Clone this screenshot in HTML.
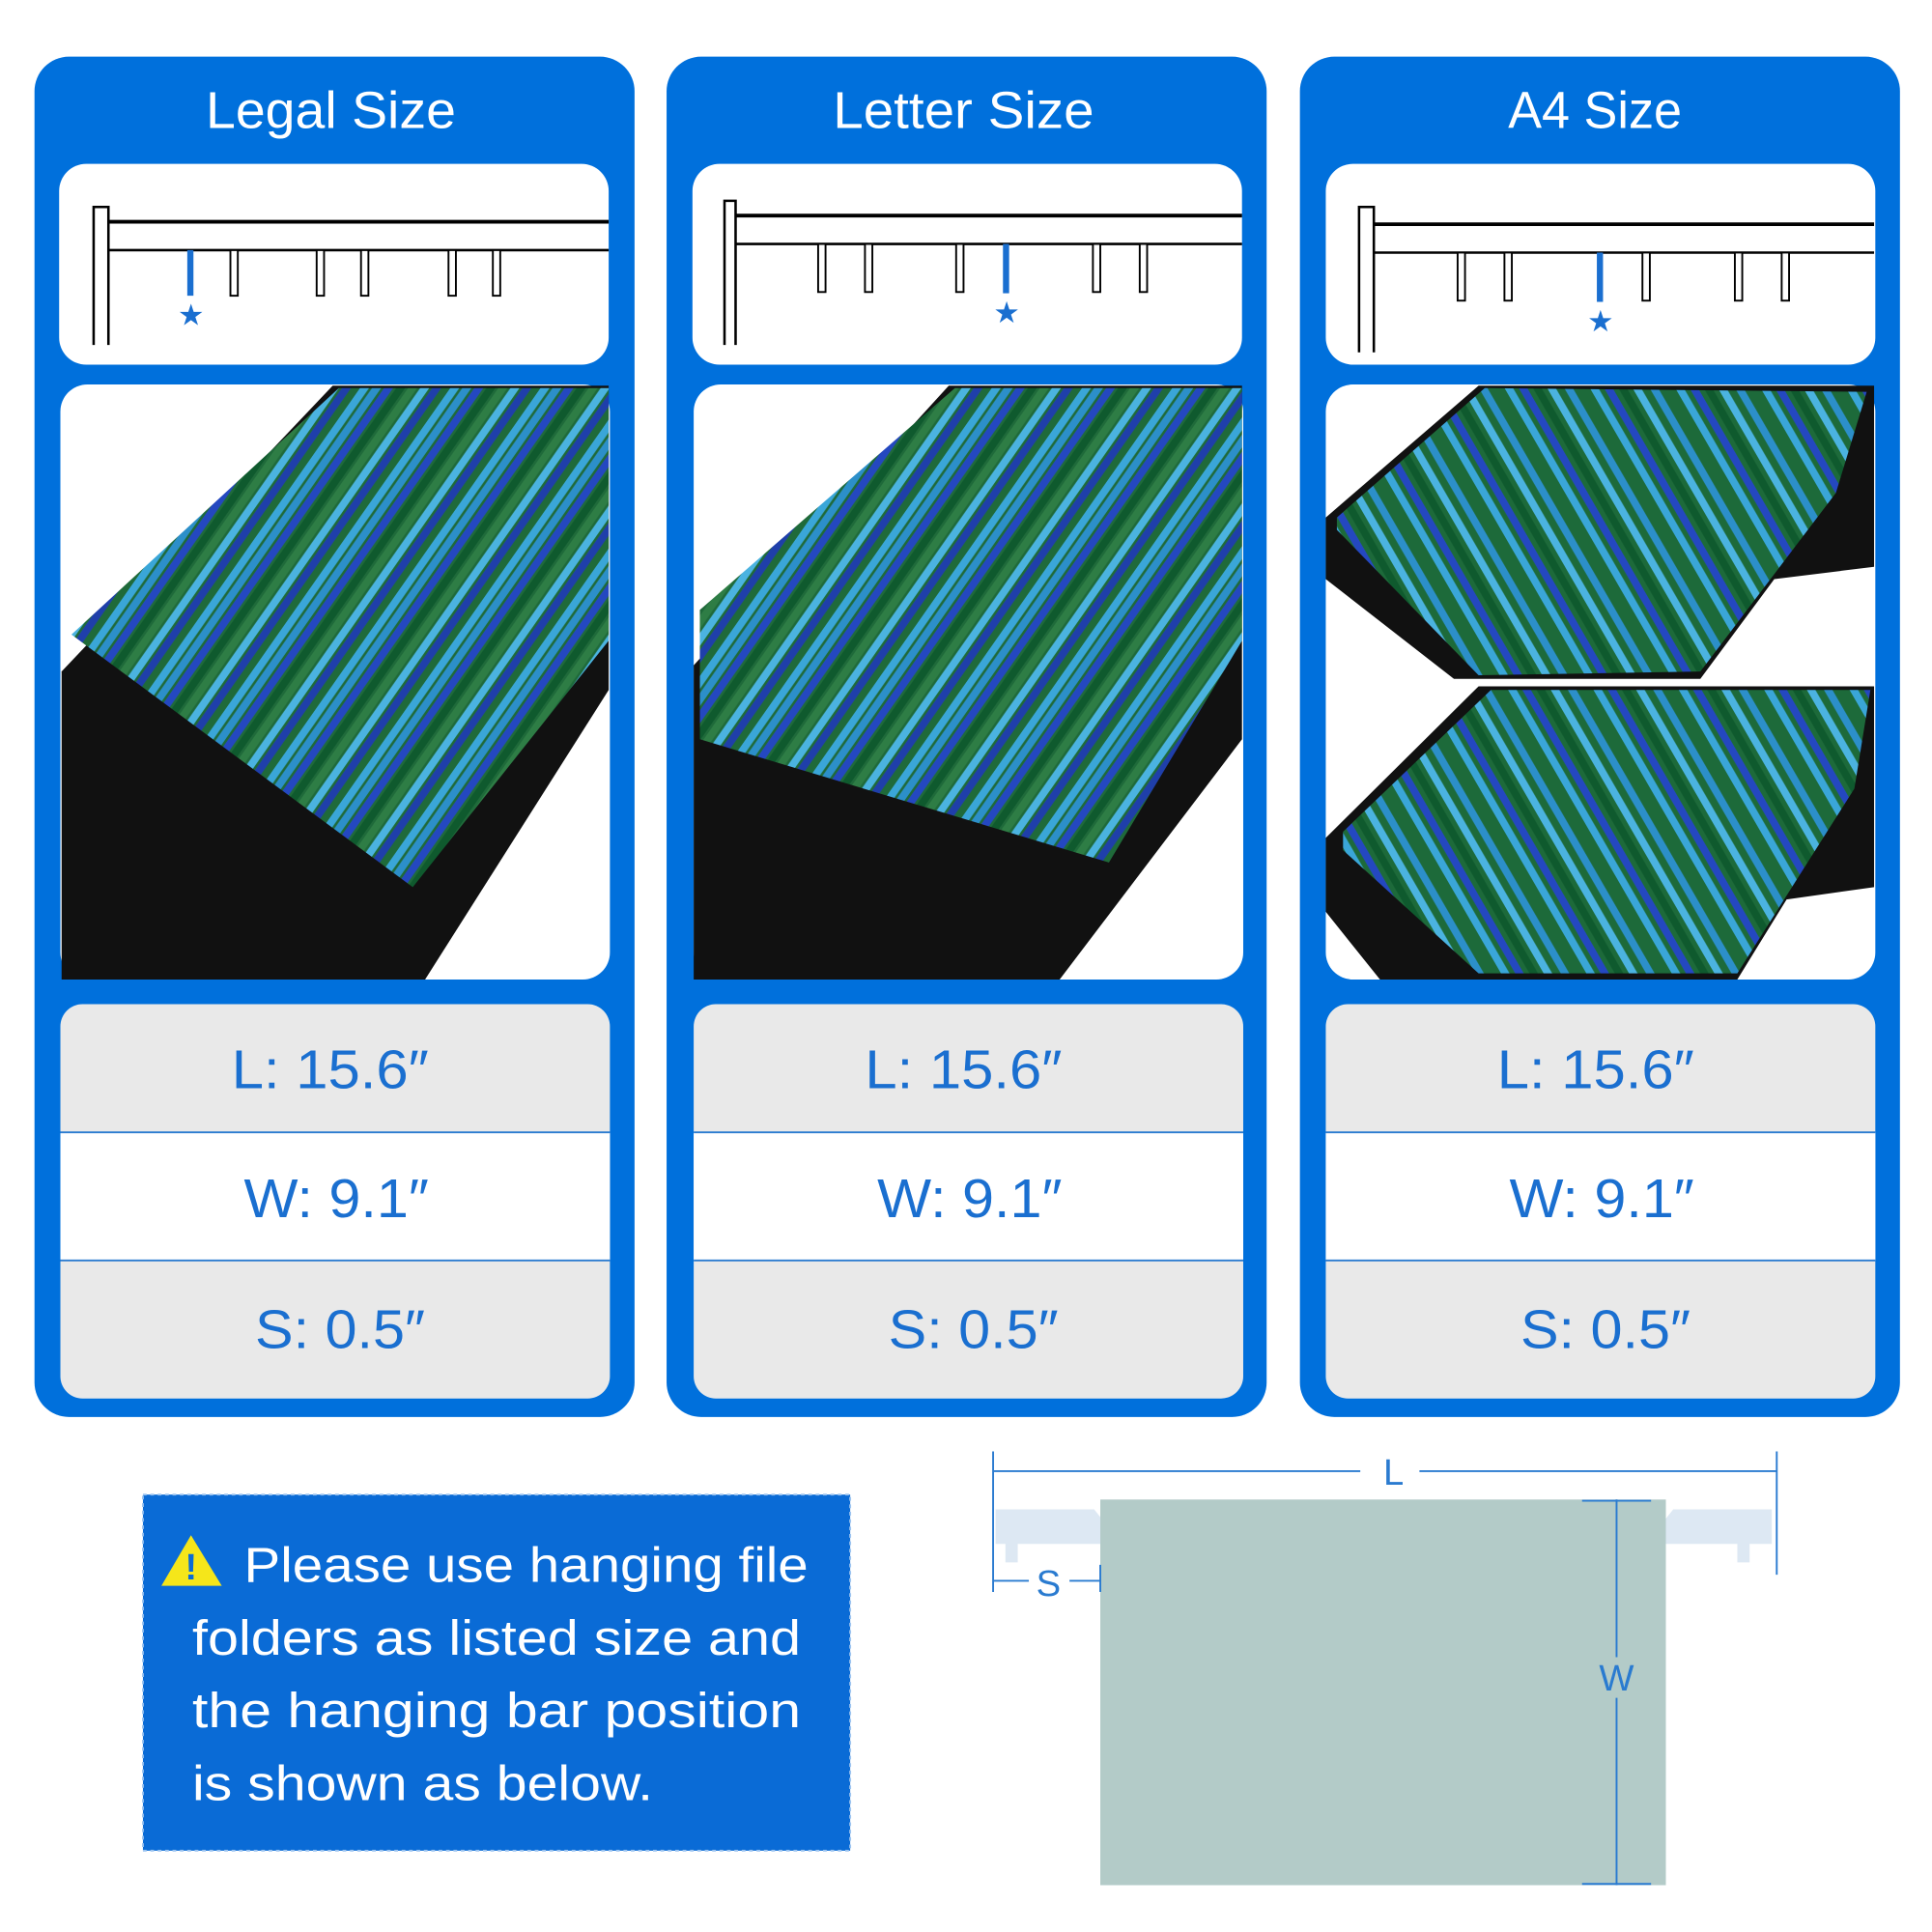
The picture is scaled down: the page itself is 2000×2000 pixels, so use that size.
<!DOCTYPE html>
<html><head><meta charset="utf-8"><style>html,body{margin:0;padding:0;background:#fff}svg{display:block}</style></head>
<body>
<svg width="2000" height="2000" viewBox="0 0 1568 1568" xmlns="http://www.w3.org/2000/svg" font-family="Liberation Sans, DejaVu Sans, sans-serif">
<defs>
<pattern id="st" width="60" height="60" patternUnits="userSpaceOnUse" patternTransform="rotate(35)">
<rect width="60" height="60" fill="#1f6a3a"/>
<rect x="0" width="6" height="60" fill="#3aa6d8"/><rect x="8" width="6" height="60" fill="#2c8fc9"/>
<rect x="16" width="6" height="60" fill="#2448c0"/><rect x="24" width="6" height="60" fill="#0f5a2e"/>
<rect x="32" width="6" height="60" fill="#2e7d45"/><rect x="40" width="6" height="60" fill="#4bb3e0"/>
<rect x="48" width="6" height="60" fill="#1f3faa"/>
</pattern>
<pattern id="st2" width="60" height="60" patternUnits="userSpaceOnUse" patternTransform="rotate(-30)">
<rect width="60" height="60" fill="#1d6a3a"/>
<rect x="0" width="6" height="60" fill="#3aa6d8"/><rect x="10" width="6" height="60" fill="#2448c0"/>
<rect x="20" width="6" height="60" fill="#0f5a2e"/><rect x="30" width="6" height="60" fill="#4bb3e0"/>
<rect x="42" width="6" height="60" fill="#2c8fc9"/>
</pattern>
<g id="table">
<rect x="0" y="0" width="446" height="320" rx="18" fill="#e9e9e9"/>
<rect x="0" y="104" width="446" height="104" fill="#fff"/>
<line x1="0" y1="104" x2="446" y2="104" stroke="#2a7bd0" stroke-width="1.5"/>
<line x1="0" y1="208" x2="446" y2="208" stroke="#2a7bd0" stroke-width="1.5"/>
<g fill="#1a6fd0" font-size="44">
<text x="139" y="68" textLength="160" lengthAdjust="spacingAndGlyphs">L: 15.6″</text><text x="149" y="173" textLength="150" lengthAdjust="spacingAndGlyphs">W: 9.1″</text><text x="158" y="279" textLength="138" lengthAdjust="spacingAndGlyphs">S: 0.5″</text></g>
</g>
</defs>
<rect width="1568" height="1568" fill="#fff"/>
<g fill="#0070dc">
<rect x="28" y="46" width="487" height="1104" rx="28"/>
<rect x="541" y="46" width="487" height="1104" rx="28"/>
<rect x="1055" y="46" width="487" height="1104" rx="28"/>
</g>
<g fill="#fff" font-size="42">
<text x="167" y="104" textLength="203" lengthAdjust="spacingAndGlyphs">Legal Size</text><text x="676" y="104" textLength="212" lengthAdjust="spacingAndGlyphs">Letter Size</text><text x="1224" y="104" textLength="141" lengthAdjust="spacingAndGlyphs">A4 Size</text>
</g>
<g fill="#fff">
<rect x="48" y="133" width="446" height="163" rx="22"/><rect x="562" y="133" width="446" height="163" rx="22"/><rect x="1076" y="133" width="446" height="163" rx="22"/>
<rect x="49" y="312" width="446" height="483" rx="22"/><rect x="563" y="312" width="446" height="483" rx="22"/><rect x="1076" y="312" width="446" height="483" rx="22"/>
</g>
<g fill="none" stroke="#000" stroke-width="2">
<path d="M76 280V168H88V280"/><line x1="88" y1="180" x2="494" y2="180" stroke-width="3"/><line x1="88" y1="203" x2="494" y2="203"/>
<path d="M588 280V163H597V280"/><line x1="597" y1="175" x2="1008" y2="175" stroke-width="3"/><line x1="597" y1="198" x2="1008" y2="198"/>
<path d="M1103 286V168H1115V286"/><line x1="1115" y1="182" x2="1521" y2="182" stroke-width="3"/><line x1="1115" y1="205" x2="1521" y2="205"/>
</g>
<g fill="#fff" stroke="#000" stroke-width="1.5">
<rect x="187" y="203" width="6" height="37"/><rect x="257" y="203" width="6" height="37"/><rect x="293" y="203" width="6" height="37"/><rect x="364" y="203" width="6" height="37"/><rect x="400" y="203" width="6" height="37"/>
<rect x="664" y="198" width="6" height="39"/><rect x="702" y="198" width="6" height="39"/><rect x="776" y="198" width="6" height="39"/><rect x="887" y="198" width="6" height="39"/><rect x="925" y="198" width="6" height="39"/>
<rect x="1183" y="205" width="6" height="39"/><rect x="1221" y="205" width="6" height="39"/><rect x="1333" y="205" width="6" height="39"/><rect x="1408" y="205" width="6" height="39"/><rect x="1446" y="205" width="6" height="39"/>
</g>
<g fill="#1a6fd0" font-size="24" text-anchor="middle">
<rect x="152" y="203" width="5" height="37"/><text x="155" y="264">★</text>
<rect x="814" y="198" width="5" height="40"/><text x="817" y="262">★</text>
<rect x="1296" y="205" width="5" height="40"/><text x="1299" y="269">★</text>
</g>
<polygon points="50,545 270,313 494,313 494,560 345,795 50,795" fill="#111"/>
<polygon points="58,515 275,315 494,315 494,520 335,720" fill="url(#st)"/>
<polygon points="563,540 770,313 1008,313 1008,600 860,795 563,795" fill="#111"/>
<polygon points="568,495 775,315 1008,315 1008,520 900,700 568,600" fill="url(#st)"/>
<polygon points="1076,420 1200,313 1521,313 1521,460 1440,470 1380,551 1180,551 1076,470" fill="#111"/>
<polygon points="1085,420 1205,315 1515,318 1490,400 1380,545 1200,548 1085,430" fill="url(#st2)"/>
<polygon points="1076,680 1200,557 1521,557 1521,720 1450,730 1410,795 1120,795 1076,740" fill="#111"/>
<polygon points="1090,675 1210,560 1518,560 1505,640 1410,790 1200,790 1090,690" fill="url(#st2)"/>
<use href="#table" x="49" y="815"/><use href="#table" x="563" y="815"/><use href="#table" x="1076" y="815"/>
<rect x="116" y="1213" width="574" height="289" fill="#0a6bd6" stroke="#9cc4f0" stroke-width="1.5" stroke-dasharray="3 3"/>
<polygon points="155,1246 131,1287 180,1287" fill="#f5e61a"/>
<text x="155" y="1282" font-size="30" font-weight="bold" text-anchor="middle" fill="#0a6bd6">!</text>
<g fill="#fff" font-size="40">
<text x="198" y="1284" textLength="458" lengthAdjust="spacingAndGlyphs">Please use hanging file</text>
<text x="156" y="1343" textLength="494" lengthAdjust="spacingAndGlyphs">folders as listed size and</text>
<text x="156" y="1402" textLength="494" lengthAdjust="spacingAndGlyphs">the hanging bar position</text>
<text x="156" y="1461" textLength="374" lengthAdjust="spacingAndGlyphs">is shown as below.</text>
</g>
<path d="M808 1225h80l8 10v18h-70v15h-10v-15h-8z" fill="#dde8f3"/>
<path d="M1438 1225h-80l-8 10v18h60v15h10v-15h18z" fill="#dde8f3"/>
<rect x="893" y="1217" width="459" height="313" fill="#b3cbc8"/>
<g stroke="#2a7bd0" stroke-width="1.5" fill="none">
<line x1="806" y1="1178" x2="806" y2="1292"/><line x1="1442" y1="1178" x2="1442" y2="1278"/>
<line x1="806" y1="1194" x2="1104" y2="1194"/><line x1="1152" y1="1194" x2="1442" y2="1194"/>
<line x1="893" y1="1270" x2="893" y2="1292"/>
<line x1="806" y1="1283" x2="835" y2="1283"/><line x1="868" y1="1283" x2="893" y2="1283"/>
<line x1="1312" y1="1217" x2="1312" y2="1345"/><line x1="1312" y1="1378" x2="1312" y2="1530"/>
<line x1="1284" y1="1218" x2="1340" y2="1218"/><line x1="1284" y1="1529" x2="1340" y2="1529"/>
</g>
<g fill="#2a7bd0" font-size="30" text-anchor="middle">
<text x="1131" y="1205">L</text><text x="851" y="1295">S</text><text x="1312" y="1372">W</text>
</g>
</svg>
</body></html>
